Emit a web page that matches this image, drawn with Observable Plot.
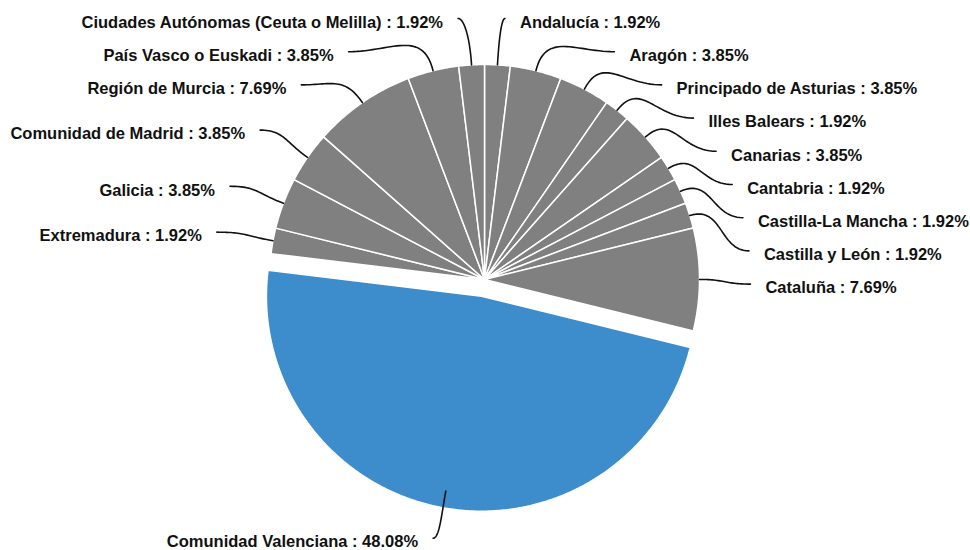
<!DOCTYPE html>
<html><head><meta charset="utf-8">
<script src="https://cdn.jsdelivr.net/npm/d3@7"></script>
<script src="https://cdn.jsdelivr.net/npm/@observablehq/plot@0.6"></script>
<style>body{margin:0;background:#fff}</style>
</head><body><div id="chart"></div>
<script>
const regions = ["Andalucía","Aragón","Principado de Asturias","Illes Balears","Canarias","Cantabria","Castilla-La Mancha","Castilla y León","Cataluña","Comunidad Valenciana","Extremadura","Galicia","Comunidad de Madrid","Región de Murcia","País Vasco o Euskadi","Ciudades Autónomas (Ceuta o Melilla)"];
const shares = [1.92,3.85,3.85,1.92,3.85,1.92,1.92,1.92,7.69,48.08,1.92,3.85,3.85,7.69,3.85,1.92];
const highlighted = ["Comunidad Valenciana"];
const baseColor = "#808080", highlightColor = "#3d8ccc";

const W = 970, H = 550, cx = 484, cy = 279, R = 215, explode = 17;
const lcx = 481, LA = 269, LB = 263, LBx = 262, gap = 33.2, topY = 18;

const arcs = d3.pie().sort(null).value(d => d.v)(regions.map((n, i) => ({n, v: shares[i]})));

const slicePts = [];
arcs.forEach(a => {
  const n = a.data.n, hi = highlighted.includes(n);
  const mid = (a.startAngle + a.endAngle) / 2;
  const ox = hi ? explode * Math.sin(mid) : 0, oy = hi ? -explode * Math.cos(mid) : 0;
  const steps = Math.max(2, Math.ceil((a.endAngle - a.startAngle) / (Math.PI / 360)));
  slicePts.push({n, hi, x: cx + ox, y: cy + oy});
  for (let k = 0; k <= steps; k++) {
    const t = a.startAngle + (a.endAngle - a.startAngle) * k / steps;
    slicePts.push({n, hi, x: cx + ox + R * Math.sin(t), y: cy + oy - R * Math.cos(t)});
  }
  slicePts.push({n, hi, x: cx + ox, y: cy + oy});
});

const labels = arcs.map(a => {
  const mid = (a.startAngle + a.endAngle) / 2;
  return {n: a.data.n, v: a.data.v, mid, side: Math.sin(mid) >= 0 ? 1 : -1, y0: cy - LB * Math.cos(mid)};
});
for (const s of [1, -1]) {
  const L = labels.filter(d => d.side === s).sort((a, b) => a.y0 - b.y0);
  let prev = -Infinity;
  L.forEach(d => { d.y = Math.max(d.y0, topY, prev + gap); prev = d.y; });
}
labels.forEach(d => {
  if (d.y === d.y0) {
    d.x = lcx + LA * Math.sin(d.mid);
  } else {
    const r = Math.max(0, 1 - ((d.y - cy) / LBx) ** 2);
    d.x = lcx + d.side * LA * Math.sqrt(r);
  }
});

const leaderPts = [];
labels.forEach(d => {
  const dir = [Math.sin(d.mid), -Math.cos(d.mid)];
  const p0 = [cx + R * dir[0], cy + R * dir[1]];
  const p3 = [d.x, d.y];
  const dist = Math.hypot(p3[0] - p0[0], p3[1] - p0[1]);
  const p1 = [p0[0] + dir[0] * dist * 0.5, p0[1] + dir[1] * dist * 0.5];
  const p2 = [p3[0] - d.side * Math.abs(p3[0] - p0[0]) * 0.5, p3[1]];
  for (let k = 0; k <= 30; k++) {
    const t = k / 30, u = 1 - t;
    const b0 = u*u*u, b1 = 3*u*u*t, b2 = 3*u*t*t, b3 = t*t*t;
    leaderPts.push({n: d.n,
      x: b0*p0[0] + b1*p1[0] + b2*p2[0] + b3*p3[0],
      y: b0*p0[1] + b1*p1[1] + b2*p2[1] + b3*p3[1]});
  }
});

const labelText = d => `${d.n} : ${d.v.toFixed(2)}%`;
const textOpts = {y: "y", text: labelText, dy: 4, fontSize: 16.5, fontWeight: "bold", fill: "#111"};

const chart = Plot.plot({
  width: W, height: H, margin: 0,
  x: {domain: [0, W], range: [0, W], axis: null},
  y: {domain: [0, H], range: [0, H], axis: null},
  style: {fontFamily: "'Liberation Sans', Arial, sans-serif", background: "white"},
  marks: [
    Plot.line(slicePts.filter(d => !d.hi), {x: "x", y: "y", z: "n", fill: baseColor, stroke: "white", strokeWidth: 1.5}),
    Plot.line(slicePts.filter(d => d.hi), {x: "x", y: "y", z: "n", fill: highlightColor, stroke: "white", strokeWidth: 1.5}),
    Plot.line(leaderPts, {x: "x", y: "y", z: "n", stroke: "#111", strokeWidth: 1.6}),
    Plot.text(labels.filter(d => d.side > 0), {...textOpts, x: d => d.x + 15, textAnchor: "start"}),
    Plot.text(labels.filter(d => d.side < 0), {...textOpts, x: d => d.x - 15, textAnchor: "end"})
  ]
});
document.getElementById("chart").appendChild(chart);
</script>
</body></html>
